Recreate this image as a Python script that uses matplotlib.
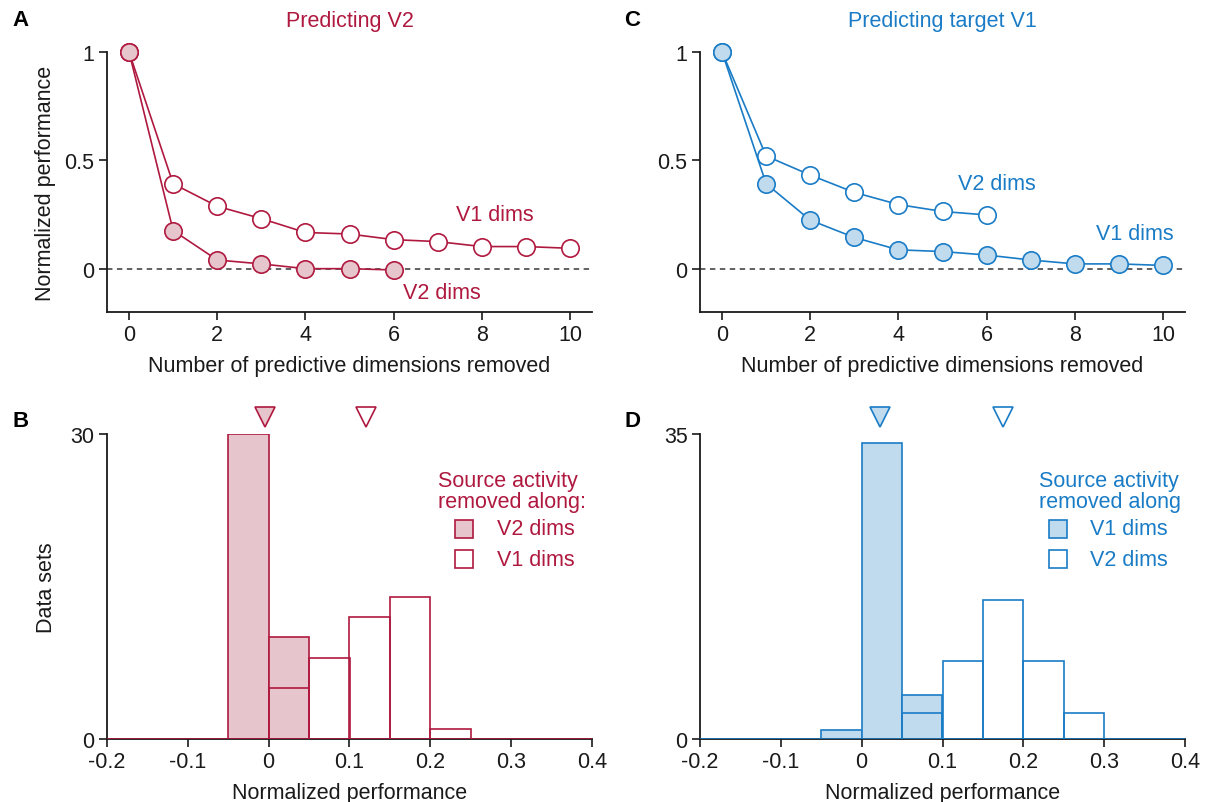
import numpy as np
import matplotlib
matplotlib.use("Agg")
import matplotlib.pyplot as plt
from matplotlib.patches import Rectangle

plt.rcParams['font.family'] = ['Liberation Sans', 'DejaVu Sans']
FS = 15.5
plt.rcParams['font.size'] = FS

# ---------------- data ----------------
dims_v1 = np.arange(0, 11)
dims_v2 = np.arange(0, 7)

# Panel A: predicting V2
A_v1_dims = [1.0, 0.392, 0.288, 0.231, 0.167, 0.160, 0.134, 0.125, 0.102, 0.102, 0.094]
A_v2_dims = [1.0, 0.176, 0.040, 0.022, 0.0, 0.0, -0.006]

# Panel C: predicting target V1
C_v2_dims = [1.0, 0.520, 0.432, 0.352, 0.296, 0.264, 0.248]
C_v1_dims = [1.0, 0.392, 0.224, 0.144, 0.087, 0.079, 0.063, 0.040, 0.022, 0.022, 0.015]

bin_edges = [-0.2, -0.15, -0.1, -0.05, 0.0, 0.05, 0.1, 0.15, 0.2, 0.25, 0.3, 0.35, 0.4]
B_v2_counts = [0, 0, 0, 30, 10, 0, 0, 0, 0, 0, 0, 0]
B_v1_counts = [0, 0, 0, 0, 5, 8, 12, 14, 1, 0, 0, 0]
D_v1_counts = [0, 0, 0, 1, 34, 5, 0, 0, 0, 0, 0, 0]
D_v2_counts = [0, 0, 0, 0, 0, 3, 9, 16, 9, 3, 0, 0]

B_medians = [-0.004, 0.121]   # filled (V2 dims), open (V1 dims)
D_medians = [0.023, 0.175]    # filled (V1 dims), open (V2 dims)

RED = '#B0193F'
PINK = '#E6C5CC'
BLUE = '#1A7CC6'
LBLUE = '#C0DBEE'
DARK = '#1a1a1a'

W, H = 1206, 803
fig = plt.figure(figsize=(W / 100, H / 100), dpi=100)


def ax_at(x0, y0, x1, y1):
    return fig.add_axes([x0 / W, 1 - y1 / H, (x1 - x0) / W, (y1 - y0) / H])


def style(ax):
    for s in ['top', 'right']:
        ax.spines[s].set_visible(False)
    for s in ['left', 'bottom']:
        ax.spines[s].set_linewidth(1.3)
        ax.spines[s].set_color(DARK)
    ax.tick_params(direction='out', length=6, width=1.2, colors=DARK,
                   labelsize=FS, pad=3)


def line_panel(ax, open_y, open_x, fill_y, fill_x, col, fcol):
    ax.axhline(0, color='#555555', lw=1.3, ls=(0, (3, 2.5)), zorder=1)
    ax.plot(open_x, open_y, '-o', color=col, lw=1.2, ms=12.5, mfc='white',
            mec=col, mew=1.2, clip_on=False, zorder=3)
    ax.plot(fill_x, fill_y, '-o', color=col, lw=1.2, ms=12.5, mfc=fcol,
            mec=col, mew=1.2, clip_on=False, zorder=4)
    ax.set_xlim(-0.5, 10.5)
    ax.set_ylim(-0.2, 1.0)
    ax.set_xticks([0, 2, 4, 6, 8, 10])
    ax.set_yticks([0, 0.5, 1])
    ax.set_yticklabels(['0', '0.5', '1'])
    ax.spines['left'].set_bounds(-0.2, 1.0)
    ax.set_xlabel('Number of predictive dimensions removed', fontsize=FS,
                  color=DARK, labelpad=7)
    style(ax)


def hist_panel(ax, fill_counts, open_counts, col, fcol, medians, ymax):
    edges = np.array(bin_edges)
    widths = np.diff(edges)
    ax.bar(edges[:-1], fill_counts, width=widths, align='edge', color=fcol,
           edgecolor=col, lw=1.2, zorder=2)
    ax.bar(edges[:-1], open_counts, width=widths, align='edge',
           facecolor='none', edgecolor=col, lw=1.2, zorder=3)
    ax.set_xlim(-0.2, 0.4)
    ax.set_ylim(0, ymax)
    ax.set_yticks([0, ymax])
    ax.set_xticks([-0.2, -0.1, 0, 0.1, 0.2, 0.3, 0.4])
    ax.set_xticklabels(['-0.2', '-0.1', '0', '0.1', '0.2', '0.3', '0.4'])
    ty = ymax * (1 + 17.0 / 305)
    ax.plot([medians[0]], [ty], marker='v', ms=15, mfc=fcol, mec=col, mew=1.2,
            ls='none', clip_on=False, zorder=5)
    ax.plot([medians[1]], [ty], marker='v', ms=15, mfc='white', mec=col, mew=1.2,
            ls='none', clip_on=False, zorder=5)
    ax.set_xlabel('Normalized performance', fontsize=FS, color=DARK, labelpad=7)
    style(ax)


# Panel A
axA = ax_at(107, 53, 592, 313)
line_panel(axA, A_v1_dims, dims_v1, A_v2_dims, dims_v2, RED, PINK)
axA.set_ylabel('Normalized performance', fontsize=FS, color=DARK, labelpad=6)
axA.set_title('Predicting V2', color=RED, fontsize=FS, pad=19)
axA.text(8.3, 0.25, 'V1 dims', color=RED, fontsize=FS, ha='center', va='center')
axA.text(7.1, -0.111, 'V2 dims', color=RED, fontsize=FS, ha='center', va='center')

# Panel C
axC = ax_at(700, 53, 1185, 313)
line_panel(axC, C_v2_dims, dims_v2, C_v1_dims, dims_v1, BLUE, LBLUE)
axC.set_title('Predicting target V1', color=BLUE, fontsize=FS, pad=19)
axC.text(6.23, 0.394, 'V2 dims', color=BLUE, fontsize=FS, ha='center', va='center')
axC.text(9.37, 0.162, 'V1 dims', color=BLUE, fontsize=FS, ha='center', va='center')

# Panel B
axB = ax_at(107, 435, 592, 740)
hist_panel(axB, B_v2_counts, B_v1_counts, RED, PINK, B_medians, 30)
axB.set_ylabel('Data sets', fontsize=FS, color=DARK, labelpad=10)

# Panel D
axD = ax_at(700, 435, 1185, 740)
hist_panel(axD, D_v1_counts, D_v2_counts, BLUE, LBLUE, D_medians, 35)


# legends (figure pixel coordinates)
def fig_text(x, y, s, **kw):
    fig.text(x / W, 1 - y / H, s, **kw)


def fig_square(x, y, size, fc, ec):
    fig.patches.append(Rectangle((x / W, 1 - (y + size) / H), size / W, size / H,
                                 transform=fig.transFigure, facecolor=fc,
                                 edgecolor=ec, lw=1.2))


fig_text(438, 482, 'Source activity', color=RED, fontsize=FS, va='center')
fig_text(438, 503, 'removed along:', color=RED, fontsize=FS, va='center')
fig_square(455, 521, 18, PINK, RED)
fig_square(455, 551, 18, 'white', RED)
fig_text(497, 530, 'V2 dims', color=RED, fontsize=FS, va='center')
fig_text(497, 560, 'V1 dims', color=RED, fontsize=FS, va='center')

fig_text(1039, 482, 'Source activity', color=BLUE, fontsize=FS, va='center')
fig_text(1039, 503, 'removed along', color=BLUE, fontsize=FS, va='center')
fig_square(1049, 521, 18, LBLUE, BLUE)
fig_square(1049, 551, 18, 'white', BLUE)
fig_text(1090, 530, 'V1 dims', color=BLUE, fontsize=FS, va='center')
fig_text(1090, 560, 'V2 dims', color=BLUE, fontsize=FS, va='center')

# panel letters
for x, y, s in [(12, 21, 'A'), (624, 21, 'C'), (12, 422, 'B'), (624, 422, 'D')]:
    fig_text(x, y, s, fontsize=16, fontweight='bold', color='black', va='center')

fig.savefig('out.png', dpi=100, facecolor='white')
